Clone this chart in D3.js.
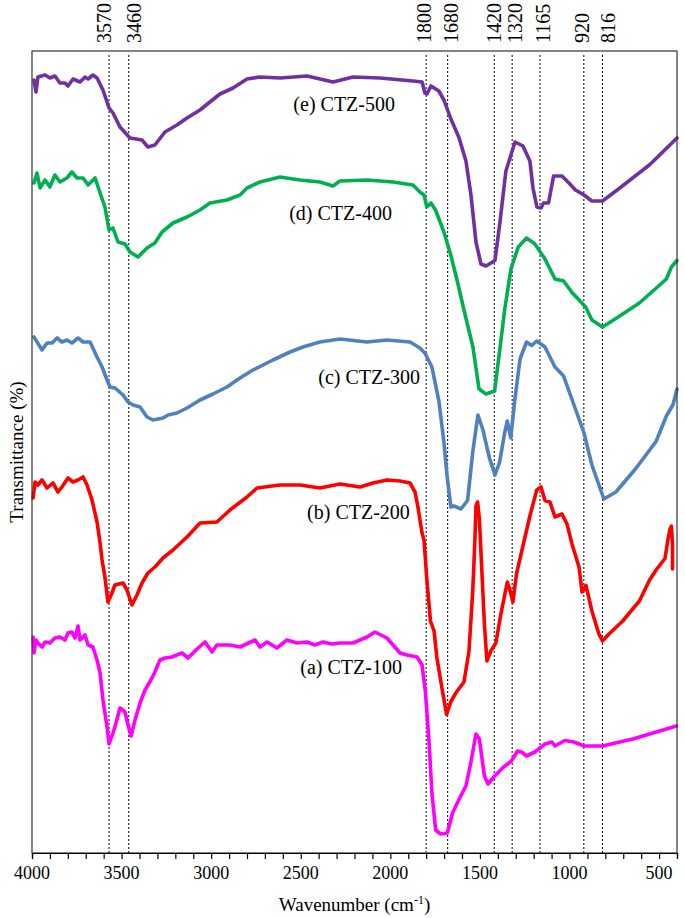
<!DOCTYPE html>
<html><head><meta charset="utf-8">
<script src="https://cdn.jsdelivr.net/npm/d3@7"></script>
<style>body{margin:0;background:#fff}svg{display:block}text{font-family:"Liberation Serif","Times New Roman",serif;fill:#000}</style>
</head><body>
<svg id="c" width="685" height="918"></svg>
<script>
// ---- data ----
const xTickLabels = [4000, 3500, 3000, 2500, 2000, 1500, 1000, 500];
const markerBands = [3570, 3460, 1800, 1680, 1420, 1320, 1165, 920, 816];
const seriesNames = ["(e) CTZ-500", "(d) CTZ-400", "(c) CTZ-300", "(b) CTZ-200", "(a) CTZ-100"];
const seriesColors = ["#7030A0", "#00B050", "#4F81BD", "#FF0000", "#FF00FF"];

const ctz500 = [[3989,77.3],[3978,76.1],[3967,77.6],[3927,77.8],[3900,77.5],[3872,77.7],[3844,77.0],[3816,77.0],[3799,76.7],[3771,77.4],[3732,77.1],[3704,77.6],[3687,77.4],[3660,77.8],[3637,77.5],[3604,76.3],[3570,74.5],[3548,74.0],[3509,72.6],[3453,71.5],[3386,71.3],[3353,70.6],[3314,70.8],[3258,72.1],[3191,72.8],[3135,73.5],[3062,74.3],[3007,75.1],[2951,75.9],[2878,76.5],[2800,77.4],[2728,77.6],[2616,77.5],[2465,77.7],[2320,77.1],[2208,77.6],[2058,77.5],[1874,77.2],[1823,77.1],[1807,76.0],[1796,75.9],[1773,76.7],[1729,76.2],[1701,75.3],[1662,73.4],[1617,71.55],[1578,69.2],[1550,65.8],[1522,61.1],[1494,58.9],[1466,58.7],[1416,59.25],[1388,63.1],[1355,68.2],[1304,71.1],[1260,70.7],[1221,69.2],[1204,66.5],[1182,64.6],[1159,64.5],[1145,65.0],[1117,65.0],[1089,67.7],[1042,67.7],[1003,67.0],[967,66.3],[919,65.8],[875,65.2],[816,65.2],[741,66.2],[551,68.85],[400,71.5]];

const ctz400 = [[3989,67.0],[3972,68.0],[3955,66.5],[3927,67.3],[3900,66.6],[3872,67.8],[3844,67.1],[3805,67.5],[3777,68.1],[3749,67.5],[3715,67.5],[3687,66.8],[3648,67.5],[3620,66.0],[3593,64.6],[3570,62.3],[3548,62.5],[3520,61.1],[3481,60.9],[3453,60.1],[3408,59.6],[3358,60.5],[3314,61.0],[3274,62.1],[3213,63.0],[3135,63.6],[3062,64.3],[3007,65.0],[2912,65.3],[2839,65.8],[2800,66.5],[2728,67.1],[2616,67.6],[2504,67.3],[2393,67.1],[2320,66.7],[2281,67.2],[2130,67.3],[1985,67.1],[1874,66.8],[1835,66.1],[1812,65.8],[1796,64.6],[1773,65.0],[1748,64.3],[1701,62.1],[1662,59.75],[1625,57.1],[1589,54.3],[1539,50.6],[1505,46.4],[1466,45.9],[1418,46.2],[1390,50.2],[1362,54.3],[1327,58.4],[1286,60.6],[1240,61.5],[1193,60.9],[1137,59.4],[1081,57.4],[1033,57.2],[986,56.05],[910,54.6],[875,53.3],[816,52.6],[741,53.45],[610,55.0],[459,57.4],[431,58.6],[400,59.25]];

const ctz300 = [[3989,51.6],[3972,51.1],[3944,50.3],[3916,51.0],[3888,51.0],[3860,51.5],[3833,51.1],[3805,51.3],[3777,51.0],[3743,51.5],[3715,51.1],[3676,51.1],[3637,49.6],[3609,48.6],[3581,47.3],[3565,46.6],[3537,46.5],[3492,45.8],[3464,45.1],[3436,44.8],[3397,44.6],[3358,43.6],[3325,43.3],[3269,43.5],[3241,43.8],[3191,44.0],[3135,44.5],[3062,45.3],[2990,45.9],[2912,46.6],[2839,47.5],[2767,48.3],[2655,49.3],[2560,50.1],[2488,50.6],[2393,51.1],[2281,51.4],[2130,51.1],[2019,51.3],[1890,51.1],[1835,50.5],[1807,50.0],[1768,48.6],[1729,45.2],[1701,41.1],[1684,37.8],[1662,34.6],[1645,34.7],[1606,34.4],[1569,35.25],[1540,40.1],[1511,43.8],[1483,42.3],[1447,39.5],[1416,37.8],[1390,39.1],[1362,42.0],[1347,43.2],[1328,41.5],[1306,45.2],[1276,49.4],[1240,51.1],[1211,50.75],[1183,51.2],[1137,50.6],[1081,48.6],[1033,47.7],[976,44.85],[919,42.0],[875,38.8],[808,35.4],[741,36.1],[630,38.45],[517,41.15],[459,43.7],[422,44.85],[400,46.4]];

const ctz200 = [[3994,35.5],[3983,37.1],[3967,36.8],[3944,37.3],[3916,36.5],[3883,37.0],[3855,36.1],[3833,36.6],[3799,37.5],[3771,37.1],[3743,37.3],[3715,37.6],[3693,36.8],[3665,35.3],[3637,33.1],[3620,31.0],[3609,29.3],[3593,27.6],[3576,25.1],[3554,26.0],[3537,26.8],[3492,27.0],[3470,26.3],[3442,24.8],[3414,25.8],[3386,27.0],[3353,28.0],[3314,28.6],[3269,29.5],[3213,30.3],[3135,31.6],[3062,33.0],[2968,33.1],[2895,34.3],[2800,35.6],[2744,36.5],[2616,36.8],[2504,36.8],[2393,36.5],[2281,36.9],[2169,36.6],[2097,37.0],[2019,37.3],[1946,37.2],[1890,37.0],[1862,36.1],[1846,34.6],[1823,32.0],[1812,31.3],[1796,27.3],[1776,23.2],[1756,22.2],[1740,19.5],[1712,16.5],[1686,13.85],[1663,15.1],[1635,16.0],[1589,17.1],[1561,20.2],[1540,26.2],[1528,31.3],[1522,34.7],[1513,35.1],[1503,33.4],[1494,30.0],[1475,22.9],[1461,19.2],[1439,20.2],[1411,21.0],[1383,23.9],[1347,27.1],[1334,26.4],[1316,25.1],[1296,27.9],[1260,30.7],[1221,33.7],[1183,36.3],[1159,36.6],[1137,35.25],[1109,35.1],[1081,33.6],[1042,33.9],[1014,32.9],[986,30.9],[947,28.6],[930,26.1],[908,26.75],[875,24.2],[836,21.9],[816,21.2],[780,21.9],[703,23.2],[610,25.2],[553,27.3],[517,28.3],[467,29.45],[451,31.3],[439,32.4],[431,32.7],[425,30.8],[425,28.4]];

const ctz100 = [[3994,21.6],[3989,20.0],[3978,21.3],[3967,21.0],[3944,20.6],[3927,21.1],[3900,21.0],[3872,21.5],[3844,21.6],[3816,21.3],[3799,22.0],[3777,22.1],[3760,21.5],[3743,22.7],[3732,21.3],[3704,21.8],[3687,20.8],[3660,20.6],[3637,19.3],[3620,18.0],[3604,15.3],[3581,12.6],[3570,10.9],[3548,12.0],[3531,13.0],[3509,14.5],[3481,14.1],[3464,12.8],[3447,11.7],[3425,13.3],[3397,15.0],[3369,16.3],[3330,17.5],[3314,18.1],[3286,19.3],[3258,19.5],[3219,19.6],[3163,20.0],[3129,19.5],[3079,20.4],[3034,21.1],[2995,20.1],[2968,20.8],[2895,20.8],[2839,20.6],[2755,21.3],[2728,20.6],[2688,21.1],[2633,20.5],[2577,21.3],[2521,21.0],[2465,21.1],[2421,20.8],[2376,21.1],[2326,20.9],[2281,21.0],[2208,21.0],[2130,21.6],[2086,22.1],[2019,21.5],[1946,20.0],[1907,19.8],[1851,19.6],[1823,18.8],[1804,16.1],[1784,11.1],[1768,6.0],[1747,2.3],[1719,1.9],[1682,2.0],[1653,4.0],[1617,5.35],[1578,6.7],[1550,9.1],[1522,11.9],[1503,11.4],[1475,7.7],[1455,6.9],[1418,7.7],[1371,8.55],[1324,9.2],[1290,10.2],[1268,10.1],[1240,9.7],[1193,10.1],[1137,10.9],[1098,11.1],[1081,10.7],[1026,11.25],[976,11.1],[919,10.7],[816,10.7],[647,11.4],[403,12.7]];

const seriesData = [ctz500, ctz400, ctz300, ctz200, ctz100];
// label anchor points in data units (wavenumber, value)
const labelAnchors = [[1974,74.2],[1991,63.3],[1835,46.9],[1891,33.4],[1935,17.9]];

// ---- layout ----
const W = 685, H = 918;
const m = {l:32, r:677, t:51, b:853};
const labelNudge = [-5, 5, -2, 3, 0, 3, 3, -2, 6];

const svg = d3.select("#c");
const x = d3.scaleLinear().domain([4000, 400]).range([m.l, m.r]);
const y = d3.scaleLinear().domain([0, 80.2]).range([m.b, m.t]);

// dashed marker lines
svg.append("g").selectAll("line").data(markerBands).join("line")
  .attr("x1", d => x(d)).attr("x2", d => x(d))
  .attr("y1", m.t + 4).attr("y2", m.b)
  .attr("stroke", "#000").attr("stroke-width", 1).attr("stroke-dasharray", "2,2");

svg.append("g").selectAll("text").data(markerBands).join("text")
  .attr("transform", (d, i) => `translate(${x(d) + labelNudge[i]},43) rotate(-90)`)
  .attr("text-anchor", "start").attr("dominant-baseline", "central")
  .attr("font-size", 20).text(d => d);

// series
const line = d3.line().x(d => x(d[0])).y(d => y(d[1]));
svg.append("g").selectAll("path").data(seriesData).join("path")
  .attr("d", line).attr("fill", "none")
  .attr("stroke", (d, i) => seriesColors[i]).attr("stroke-width", 3.6)
  .attr("stroke-linejoin", "round").attr("stroke-linecap", "round");

// series labels
svg.append("g").selectAll("text").data(seriesNames).join("text")
  .attr("x", (d, i) => x(labelAnchors[i][0])).attr("y", (d, i) => y(labelAnchors[i][1]))
  .attr("text-anchor", "end").attr("font-size", 20).text(d => d);

// frame
svg.append("rect").attr("x", m.l).attr("y", m.t).attr("width", m.r - m.l).attr("height", m.b - m.t)
  .attr("fill", "none").attr("stroke", "#333").attr("stroke-width", 1.2);

// x axis
const ax = svg.append("g").attr("transform", `translate(0,${m.b})`)
  .call(d3.axisBottom(x).tickValues(d3.range(4000, 399, -100)).tickSize(6).tickFormat(""));
ax.select(".domain").attr("stroke", "#000").attr("stroke-width", 1.2);
ax.selectAll(".tick line").attr("stroke", "#000").attr("stroke-width", 1.2);

svg.append("g").selectAll("text").data(xTickLabels).join("text")
  .attr("x", d => x(d)).attr("y", m.b + 26).attr("text-anchor", "middle")
  .attr("font-size", 18).text(d => d);

const xt = svg.append("text").attr("x", (m.l + m.r) / 2).attr("y", 911)
  .attr("text-anchor", "middle").attr("font-size", 19);
xt.append("tspan").text("Wavenumber (cm");
xt.append("tspan").attr("font-size", 12).attr("dy", -7).text("-1");
xt.append("tspan").attr("dy", 7).text(")");

svg.append("text").attr("transform", `translate(23,${(m.t + m.b) / 2}) rotate(-90)`)
  .attr("text-anchor", "middle").attr("font-size", 19).text("Transmittance (%)");
</script>
</body></html>
